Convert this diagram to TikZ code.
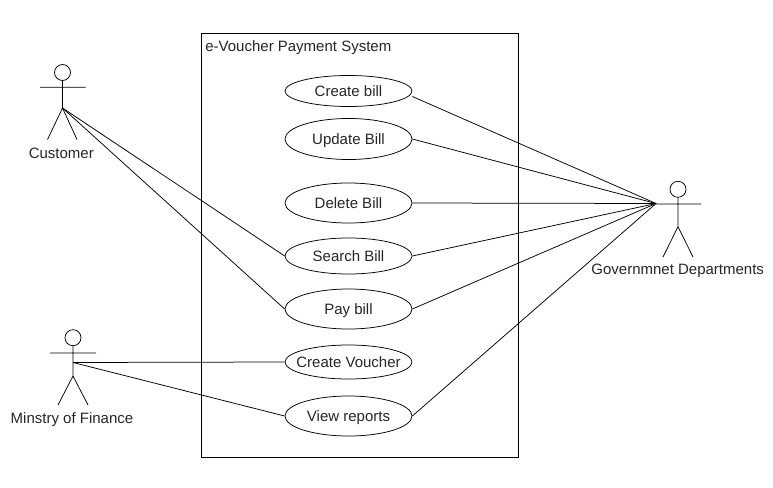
\documentclass[tikz,border=0pt]{standalone}
\usepackage{fontspec}
\setmainfont{Liberation Sans}
\usetikzlibrary{shapes.geometric}
\begin{document}
\begin{tikzpicture}[x=1pt,y=-1pt,line width=0.75pt,
  usecase/.style={draw,ellipse,inner sep=0pt,minimum width=127pt,fill=white},
  txt/.style={font=\fontsize{15}{17}\selectfont,inner sep=0pt,text height=11pt,text depth=1pt,text=black!85},
  lnk/.style={line width=0.75pt}]
\useasboundingbox (0,0) rectangle (773,487);
\node[draw,line width=0.75pt,minimum width=317pt,minimum height=424pt,inner sep=0pt] (sys) at (359.5,245) {};
\node[txt,anchor=west] (title) at (205,47) {e-Voucher Payment System};
\node[usecase,minimum height=31pt] (u1) at (348.5,91) {};
\node[txt] (t1) at (348.5,91) {Create bill};
\node[usecase,minimum height=41pt] (u2) at (348.5,139) {};
\node[txt] (t2) at (348.5,139) {Update Bill};
\node[usecase,minimum height=40pt] (u3) at (348.5,203) {};
\node[txt] (t3) at (348.5,203) {Delete Bill};
\node[usecase,minimum height=36pt] (u4) at (348.5,256) {};
\node[txt] (t4) at (348.5,256) {Search Bill};
\node[usecase,minimum height=40pt] (u5) at (348.5,309) {};
\node[txt] (t5) at (348.5,309) {Pay bill};
\node[usecase,minimum height=34pt] (u6) at (348.5,362) {};
\node[txt] (t6) at (348.5,362) {Create Voucher};
\node[usecase,minimum height=40pt] (u7) at (348.5,416) {};
\node[txt] (t7) at (348.5,416) {View reports};
% actors
\coordinate (ca) at (62.5,108);
\draw (62.5,72.5) circle (8);
\draw (62.5,80.5) -- (ca) (40,87.3) -- (85.5,87.3) (ca) -- (47.5,139.5) (ca) -- (77,139.5);
\node[txt] (cl) at (61.3,153) {Customer};
\coordinate (ma) at (73,376);
\draw (73,337.7) circle (8);
\draw (73,345.7) -- (ma) (50,353) -- (96,353) (ma) -- (58,405) (ma) -- (88,405);
\node[txt] (ml) at (72,418.5) {Minstry of Finance};
\coordinate (ga) at (678,226.7);
\draw (678,189.3) circle (8);
\draw (678,197.3) -- (ga) (656,204) -- (701,204) (ga) -- (663,257) (ga) -- (693,257);
\node[txt] (gl) at (677.7,269.5) {Governmnet Departments};
\coordinate (cs) at (62.5,108);
\coordinate (ms) at (73,362.5);
\coordinate (gs) at (656,203.5);
\draw[lnk] (cs) -- (u4.west);
\draw[lnk] (cs) -- (u5.west);
\draw[lnk] (ms) -- (u6.west);
\draw[lnk] (ms) -- (u7.west);
\draw[lnk] ([yshift=-5.5pt]u1.east) -- (gs);
\draw[lnk] (u2.east) -- (gs);
\draw[lnk] (u3.east) -- (gs);
\draw[lnk] (u4.east) -- (gs);
\draw[lnk] (u5.east) -- (gs);
\draw[lnk] (u7.east) -- (gs);
\end{tikzpicture}
\end{document}
